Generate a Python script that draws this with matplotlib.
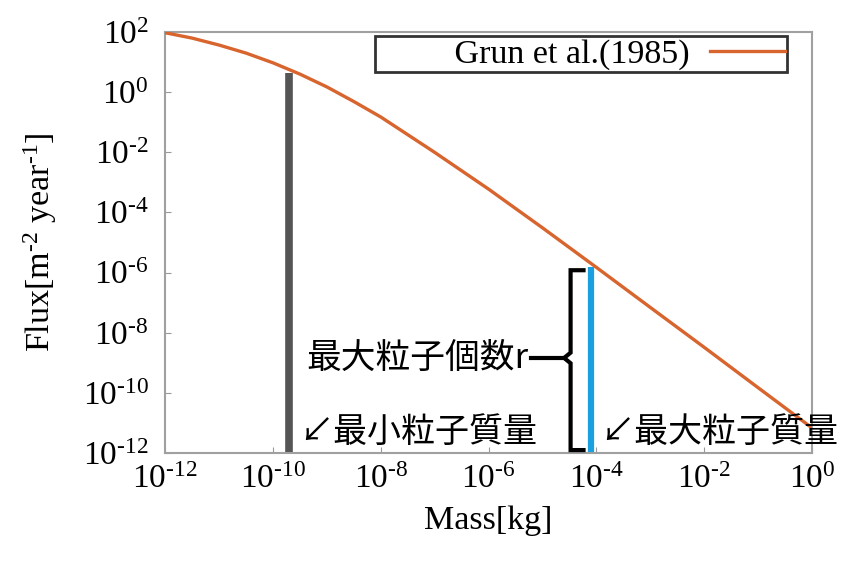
import numpy as np
import matplotlib
matplotlib.use('Agg')
import matplotlib.pyplot as plt
from matplotlib.ticker import FuncFormatter

plt.rcParams['font.family'] = ['Liberation Serif', 'DejaVu Serif']
plt.rcParams['mathtext.fontset'] = 'custom'
plt.rcParams['mathtext.rm'] = 'Liberation Serif'
plt.rcParams['mathtext.it'] = 'Liberation Serif'

# Grun et al.(1985) flux
mass = [1e-12, 10**-11.5, 1e-11, 10**-10.5, 1e-10, 10**-9.5, 1e-9, 10**-8.5,
        1e-8, 1e-7, 1e-6, 1e-5, 1e-4, 1e-3, 1e-2, 1e-1, 1e0]
flux = [95, 63, 37, 20, 9.5, 4.0, 1.5, 0.49,
        0.15, 1.0e-2, 6.0e-4, 3.1e-5, 1.5e-6, 7.0e-8, 3.3e-9, 1.5e-10, 6.9e-12]

# min / max particle mass bars
min_mass = 2e-10
min_top = 4.4
max_mass = 8e-5
max_top = 1.5e-6
ybottom = 1e-12

cjk = ['Noto Sans CJK JP', 'DejaVu Sans']


def pow10(v, pos):
    e = int(round(np.log10(v)))
    s = str(e).replace('-', r'\text{-}')
    return r'$10^{%s}$' % s


fig = plt.figure(figsize=(8.43, 5.63), dpi=100)
ax = fig.add_axes([0.196, 0.1954, 0.767, 0.7476])

ax.plot(mass, flux, color='#d8642e', lw=2.4, label='         Grun et al.(1985)', zorder=3)
ax.vlines(min_mass, ybottom, min_top, color='#555555', lw=5.5, zorder=2)
ax.vlines(max_mass, ybottom, max_top, color='#1aa0e0', lw=4.5, zorder=2)

ax.set_xscale('log')
ax.set_yscale('log')
ax.set_xlim(1e-12, 1e0)
ax.set_ylim(1e-12, 1e2)
ax.set_xticks([10.0**k for k in range(-12, 1, 2)])
ax.set_yticks([10.0**k for k in range(-12, 3, 2)])
ax.xaxis.set_major_formatter(FuncFormatter(pow10))
ax.yaxis.set_major_formatter(FuncFormatter(pow10))
ax.tick_params(which='both', direction='in', color='#999999', labelsize=24)
ax.tick_params(axis='y', pad=12)
ax.tick_params(axis='x', pad=8)
ax.tick_params(which='major', length=4)
ax.tick_params(which='minor', length=2.5)
for s in ax.spines.values():
    s.set_color('#a0a0a0')
    s.set_linewidth(1.5)

ax.set_xlabel('Mass[kg]', fontsize=24.5)
ax.set_ylabel(r'Flux[m$^{\text{-}2}$ year$^{\text{-}1}$]', fontsize=24.5)
ax.xaxis.set_label_coords(0.5, -0.125)
ax.yaxis.set_label_coords(-0.165, 0.5)

leg = ax.legend(loc='upper right', fontsize=24.5, markerfirst=False, fancybox=False,
                handlelength=2.2, handletextpad=0.6, borderpad=0.08, borderaxespad=0.3,
                bbox_to_anchor=(0.978, 1.015))
leg.get_frame().set_edgecolor('black')
leg.get_frame().set_linewidth(2)

# bracket for max particle count
bx = max_mass / 10**0.38
hook = max_mass / 10**0.14
tip = max_mass / 10**0.5
ymid = 1.45e-9
ax.plot([hook, bx, bx, tip, bx, bx, hook],
        [max_top * 0.8, max_top * 0.8, ymid * 1.5, ymid, ymid / 1.5, ybottom * 1.25, ybottom * 1.25],
        color='black', lw=3, solid_joinstyle='miter', clip_on=False, zorder=4)
ax.plot([max_mass / 10**1.12, tip], [ymid, ymid], color='black', lw=3, zorder=4)
ax.text(max_mass / 10**1.16, ymid, '最大粒子個数r', family=cjk, fontsize=25,
        ha='right', va='center')

ax.text(min_mass * 1.5, 5e-12, '↙最小粒子質量', family=cjk, fontsize=24.5,
        ha='left', va='center')
ax.text(max_mass * 1.5, 5e-12, '↙最大粒子質量', family=cjk, fontsize=24.5,
        ha='left', va='center')

fig.savefig('out.png', dpi=100)
